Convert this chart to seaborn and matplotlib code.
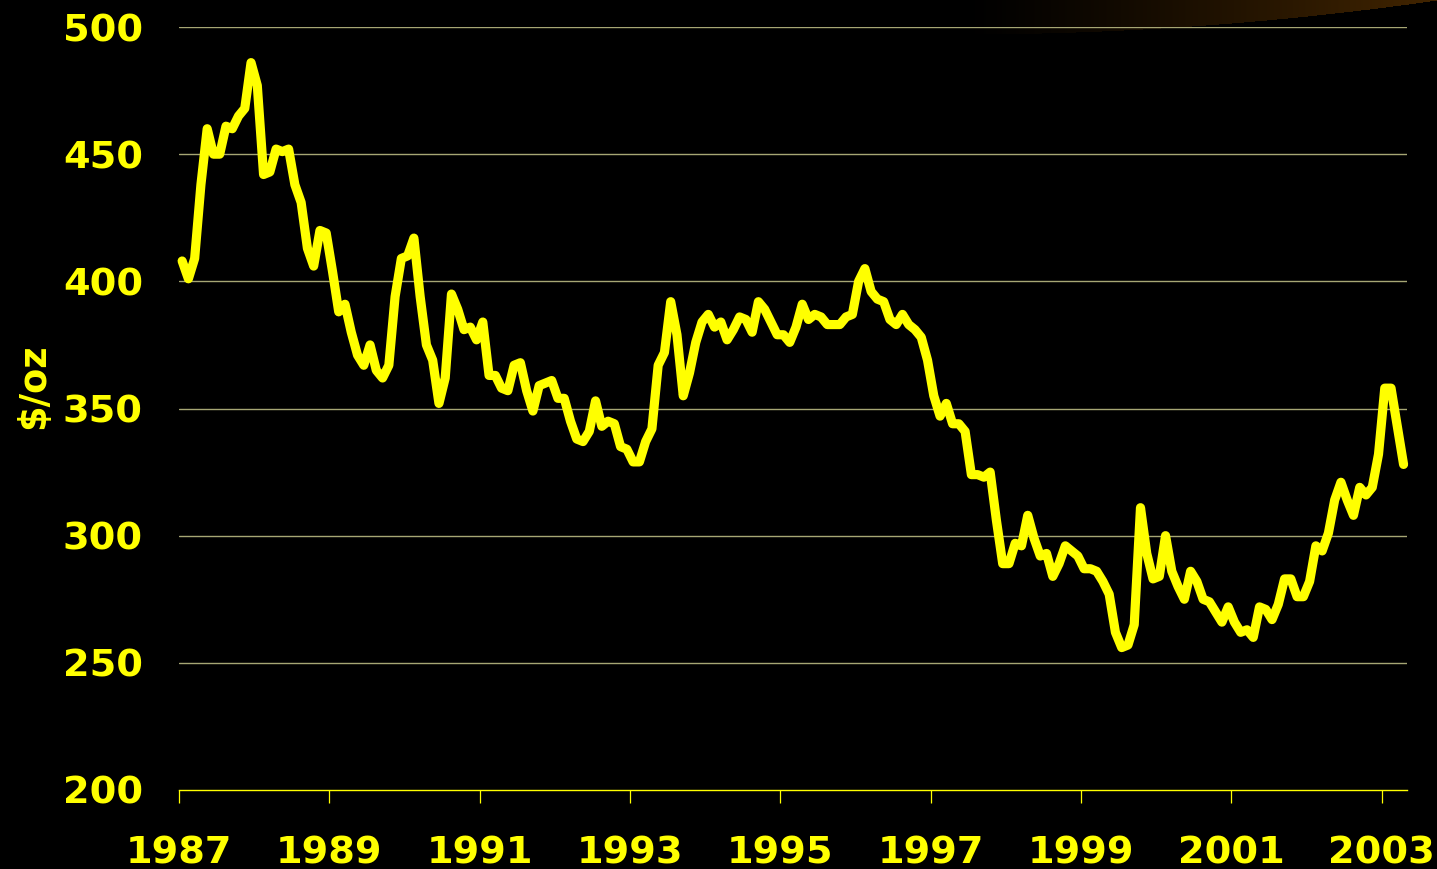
import numpy as np
import pandas as pd
import matplotlib
matplotlib.use("Agg")
import matplotlib.pyplot as plt
import seaborn as sns

# ---- data: monthly gold price, Jan 1987 .. Apr 2003 ($/oz) ----
start_year = 1987
prices_1987 = [408, 401, 409, 438, 460, 450, 450, 461, 460, 465, 468, 486]
prices_1988 = [477, 442, 443, 452, 451, 452, 438, 431, 413, 406, 420, 419]
prices_1989 = [404, 388, 391, 380, 371, 367, 375, 365, 362, 367, 394, 409]
prices_1990 = [410, 417, 394, 375, 369, 352, 362, 395, 389, 381, 382, 377]
prices_1991 = [384, 363, 363, 358, 357, 367, 368, 357, 349, 359, 360, 361]
prices_1992 = [354, 354, 345, 338, 337, 341, 353, 343, 345, 344, 335, 334]
prices_1993 = [329, 329, 337, 342, 367, 372, 392, 379, 355, 364, 376, 384]
prices_1994 = [387, 382, 384, 377, 381, 386, 385, 380, 392, 389, 384, 379]
prices_1995 = [379, 376, 382, 391, 385, 387, 386, 383, 383, 383, 386, 387]
prices_1996 = [400, 405, 396, 393, 392, 385, 383, 387, 383, 381, 378, 369]
prices_1997 = [355, 347, 352, 344, 344, 341, 324, 324, 323, 325, 306, 289]
prices_1998 = [289, 297, 296, 308, 299, 292, 293, 284, 289, 296, 294, 292]
prices_1999 = [287, 287, 286, 282, 277, 262, 256, 257, 265, 311, 293, 283]
prices_2000 = [284, 300, 286, 280, 275, 286, 282, 275, 274, 270, 266, 272]
prices_2001 = [266, 262, 263, 260, 272, 271, 267, 273, 283, 283, 276, 276]
prices_2002 = [282, 296, 294, 301, 314, 321, 314, 308, 319, 316, 319, 332]
prices_2003 = [358, 358, 343, 328]

year_ticks = [1987, 1989, 1991, 1993, 1995, 1997, 1999, 2001, 2003]
y_ticks = [200, 250, 300, 350, 400, 450, 500]
y_label = "$/oz"

prices = (prices_1987 + prices_1988 + prices_1989 + prices_1990 + prices_1991
          + prices_1992 + prices_1993 + prices_1994 + prices_1995 + prices_1996
          + prices_1997 + prices_1998 + prices_1999 + prices_2000 + prices_2001
          + prices_2002 + prices_2003)
n = len(prices)
# category axis: each month occupies one slot, the point sits in its centre
dates = start_year + (np.arange(n) + 0.5) / 12.0
df = pd.DataFrame({"date": dates, "price": prices})

YELLOW = "#FFFF00"
GRID = "#a6a674"

sns.set_style("dark", {"axes.facecolor": "black", "figure.facecolor": "black"})
plt.rcParams["font.family"] = ["DejaVu Sans"]

W, H = 1437, 869
fig = plt.figure(figsize=(W / 100, H / 100), dpi=100)
fig.patch.set_facecolor("black")

# decorative brownish swoosh in the top-right corner
bg = fig.add_axes([0, 0, 1, 1], zorder=-5)
bg.set_axis_off()
xx, yy = np.meshgrid(np.arange(W), np.arange(H))
u = np.clip((xx - 960) / (W - 960), 0, 1)
curve = 34 - 34 * u ** 2
mask = (yy < curve) & (xx > 960)
inten = np.where(mask, u ** 1.2, 0.0)
img = np.zeros((H, W, 3))
img[..., 0] = inten * 0.26
img[..., 1] = inten * 0.145
img[..., 2] = inten * 0.0
bg.imshow(img, extent=[0, W, H, 0], aspect="auto", interpolation="bilinear")
bg.set_xlim(0, W)
bg.set_ylim(H, 0)

left, right = 179 / W, 1406.7 / W
top, bottom = 1 - 27 / H, 1 - 790 / H
ax = fig.add_axes([left, bottom, right - left, top - bottom])
ax.set_facecolor("none")

sns.lineplot(data=df, x="date", y="price", ax=ax, color=YELLOW, linewidth=6.6,
             solid_joinstyle="round", solid_capstyle="round", legend=False,
             clip_on=False, zorder=5)

ax.set_xlim(start_year, start_year + n / 12.0)
ax.set_ylim(200, 500)
ax.set_xticks(year_ticks)
ax.set_xticklabels([str(y) for y in year_ticks])
ax.set_yticks(y_ticks)
ax.set_yticklabels([str(v) for v in y_ticks])

ax.grid(False)
for v in y_ticks[1:]:
    ax.axhline(v, color=GRID, linewidth=1.0, zorder=1)

for s in ["top", "right", "left"]:
    ax.spines[s].set_visible(False)
ax.spines["bottom"].set_color(YELLOW)
ax.spines["bottom"].set_linewidth(1.0)

ax.tick_params(axis="x", bottom=True, direction="out", length=9.5, width=0.9,
               color=YELLOW, pad=23, labelsize=27.5, labelcolor=YELLOW)
ax.tick_params(axis="y", left=False, length=0, pad=26, labelsize=27.5,
               labelcolor=YELLOW)
for lab in ax.get_xticklabels() + ax.get_yticklabels():
    lab.set_fontweight("bold")

ax.set_xlabel("")
ax.set_ylabel(y_label, color=YELLOW, fontsize=26.5, fontweight="bold", va="center")
ax.yaxis.set_label_coords((34 - 179) / (1406.7 - 179), (790 - 386) / 763)

fig.savefig("out.png", dpi=100, facecolor="black")
